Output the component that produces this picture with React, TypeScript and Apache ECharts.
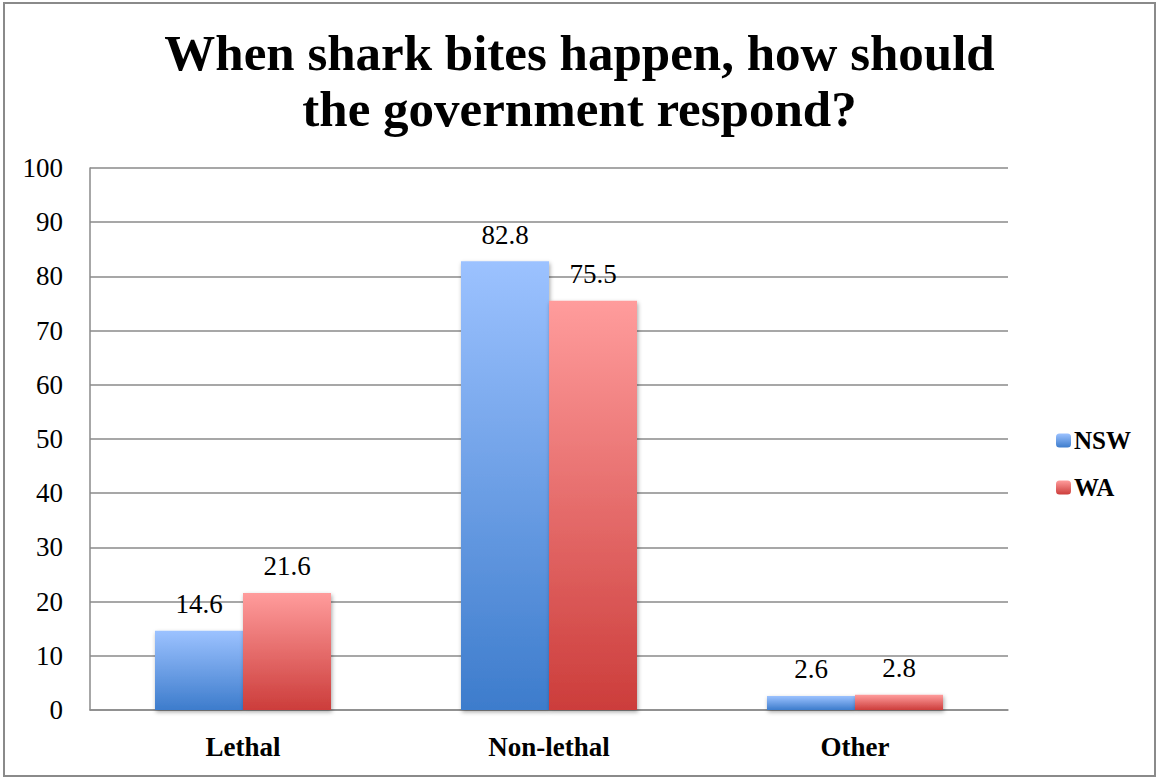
import React, { useEffect, useRef } from "react";
import * as echarts from "echarts";

const categories = ["Lethal", "Non-lethal", "Other"];
const nswValues = [14.6, 82.8, 2.6];
const waValues = [21.6, 75.5, 2.8];
const seriesNames = ["NSW", "WA"];
const titleText = "When shark bites happen, how should\nthe government respond?";

const FONT = "'Liberation Serif', 'Times New Roman', serif";

export default function App() {
  const ref = useRef<HTMLDivElement>(null);
  useEffect(() => {
    document.body.style.margin = "0";
    const chart = echarts.init(ref.current!, null, { renderer: "svg" });
    const grad = (top: string, bottom: string) =>
      new echarts.graphic.LinearGradient(0, 0, 0, 1, [
        { offset: 0, color: top },
        { offset: 1, color: bottom },
      ]);
    const labelStyle = {
      show: true,
      position: "top" as const,
      distance: 13,
      fontFamily: FONT,
      fontSize: 27,
      color: "#000",
    };
    const shadow = {
      shadowBlur: 4,
      shadowColor: "rgba(0,0,0,0.35)",
      shadowOffsetX: 1,
      shadowOffsetY: 2,
    };
    chart.setOption({
      animation: false,
      backgroundColor: "#fff",
      textStyle: { fontFamily: FONT },
      graphic: [
        {
          type: "rect",
          shape: { x: 4, y: 3, width: 1151, height: 773 },
          style: { fill: "none", stroke: "#8a8a8a", lineWidth: 2 },
          silent: true,
        },
      ],
      title: {
        text: titleText,
        left: "center",
        top: 20,
        textStyle: {
          fontFamily: FONT,
          fontWeight: "bold",
          fontSize: 51,
          lineHeight: 56,
          color: "#000",
          align: "center",
        },
      },
      legend: {
        orient: "vertical",
        left: 1051,
        top: 423,
        itemWidth: 15,
        itemHeight: 14,
        itemGap: 22,
        itemStyle: { shadowBlur: 0 },
        textStyle: {
          fontFamily: FONT,
          fontWeight: "bold",
          fontSize: 25,
          color: "#000",
          padding: [0, 0, 0, -2],
        },
        data: seriesNames,
      },
      grid: { left: 90, right: 151, top: 168, bottom: 73, containLabel: false },
      xAxis: {
        type: "category",
        data: categories,
        axisLine: { show: true, lineStyle: { color: "#8a8a8a", width: 1.5 } },
        axisTick: { show: false },
        axisLabel: {
          fontFamily: FONT,
          fontWeight: "bold",
          fontSize: 27,
          color: "#000",
          margin: 23,
        },
      },
      yAxis: {
        type: "value",
        min: 0,
        max: 100,
        interval: 10,
        axisLine: { show: true, lineStyle: { color: "#8a8a8a", width: 1.5 } },
        axisTick: { show: false },
        splitLine: { lineStyle: { color: "#8a8a8a", width: 1.5 } },
        axisLabel: {
          fontFamily: FONT,
          fontSize: 27,
          color: "#000",
          margin: 27,
        },
      },
      series: [
        {
          name: seriesNames[0],
          type: "bar",
          data: nswValues,
          barWidth: 88,
          barGap: "0%",
          itemStyle: { color: grad("#9cc2ff", "#3d7ccc"), ...shadow },
          label: labelStyle,
        },
        {
          name: seriesNames[1],
          type: "bar",
          data: waValues,
          barWidth: 88,
          barGap: "0%",
          itemStyle: { color: grad("#ff9c9c", "#cc3d3b"), ...shadow },
          label: labelStyle,
        },
      ],
    });
    return () => chart.dispose();
  }, []);
  return <div ref={ref} style={{ width: 1159, height: 783 }} />;
}
